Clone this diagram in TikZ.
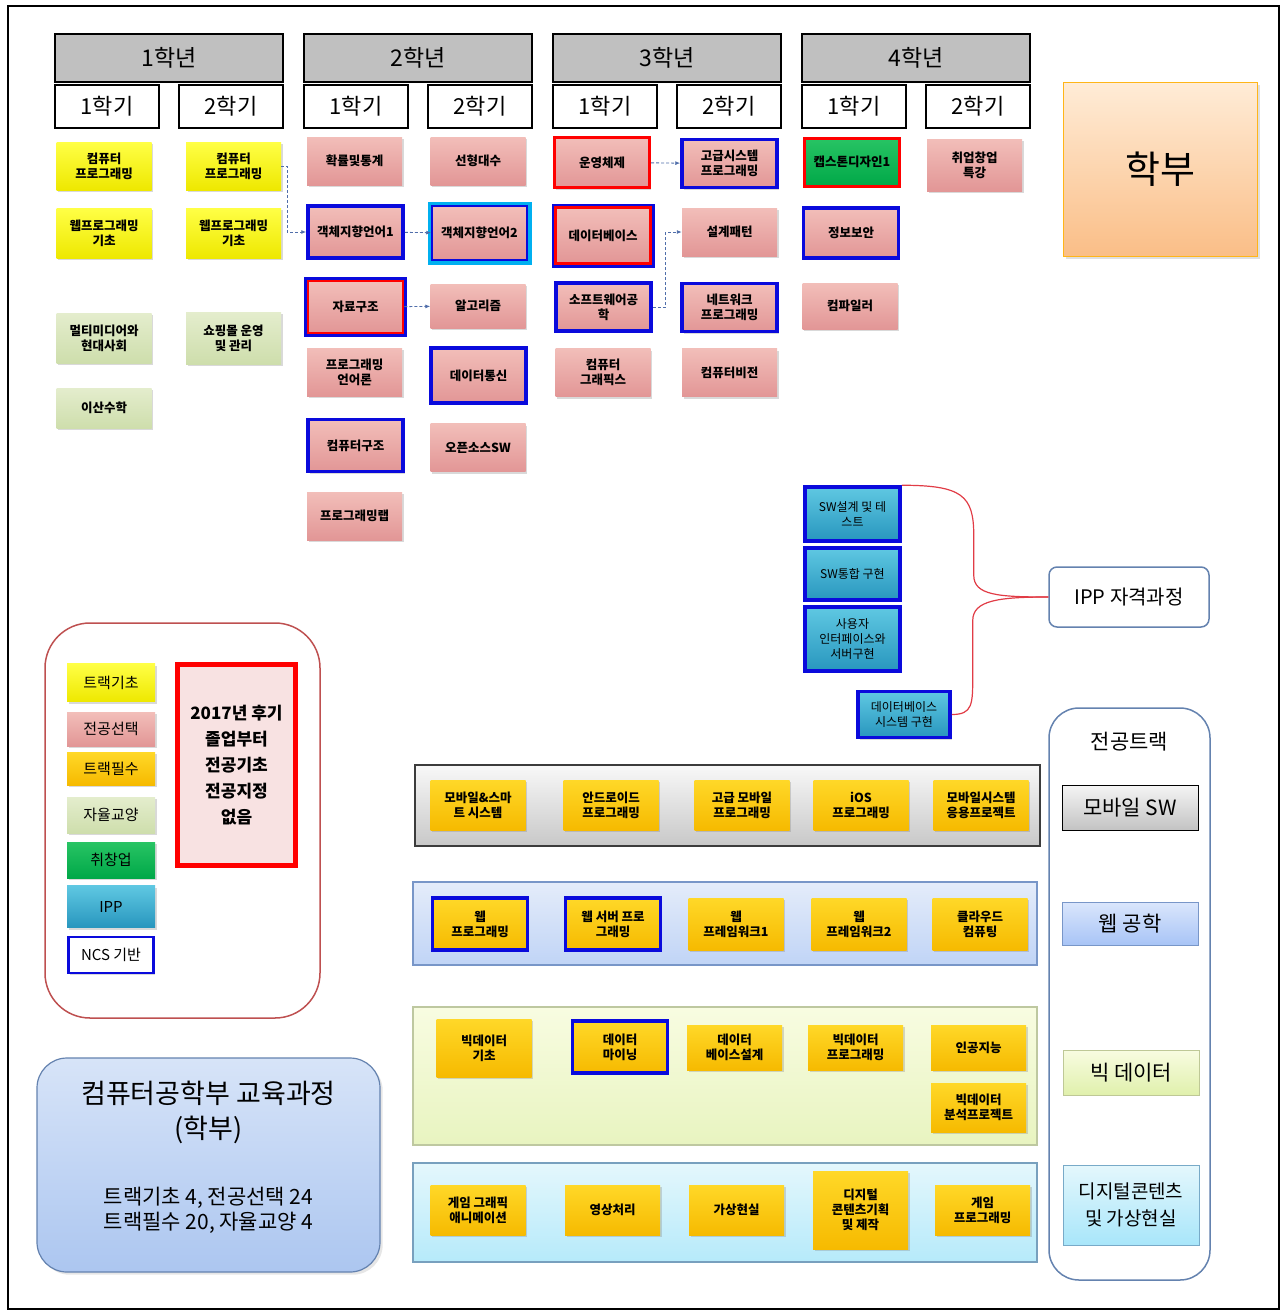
\documentclass[tikz,border=0pt]{standalone}
\usepackage{fontspec}
\setmainfont{Noto Sans CJK KR}
\usetikzlibrary{arrows.meta,shadows}
\definecolor{hdgray}{RGB}{192,192,192}
\definecolor{ylwA}{RGB}{255,255,70}
\definecolor{ylwB}{RGB}{238,232,0}
\definecolor{pnkA}{RGB}{242,190,185}
\definecolor{pnkB}{RGB}{226,150,150}
\definecolor{gldA}{RGB}{255,216,40}
\definecolor{gldB}{RGB}{246,186,0}
\definecolor{khkA}{RGB}{228,237,205}
\definecolor{khkB}{RGB}{206,222,172}
\definecolor{grnA}{RGB}{40,196,100}
\definecolor{grnB}{RGB}{0,168,72}
\definecolor{ippA}{RGB}{95,200,226}
\definecolor{ippB}{RGB}{40,150,190}
\definecolor{ncsblue}{RGB}{10,10,220}
\definecolor{oopcyan}{RGB}{0,176,240}
\definecolor{flowc}{RGB}{80,110,170}
\definecolor{brcred}{RGB}{225,60,70}
\definecolor{ippbd}{RGB}{100,130,175}
\definecolor{lgdbd}{RGB}{190,80,80}
\begin{document}
\begin{tikzpicture}[x=1pt,y=-1pt,
    yrbox/.style={draw,line width=1.5pt,fill=hdgray,minimum width=228pt,minimum height=48pt,font=\fontsize{23}{26}\selectfont},
    sembox/.style={draw,line width=1.2pt,fill=white,minimum width=104pt,minimum height=43pt,font=\fontsize{22}{24}\selectfont},
    crs/.style={minimum width=95pt,minimum height=48pt,inner sep=1pt,align=center,font=\fontsize{12.5}{15}\selectfont\bfseries,drop shadow={opacity=.3,shadow xshift=1.5pt,shadow yshift=-2pt}},
    tbase/.style={crs,top color=ylwA,bottom color=ylwB},
    msel/.style={crs,top color=pnkA,bottom color=pnkB},
    treq/.style={crs,top color=gldA,bottom color=gldB},
    libr/.style={crs,top color=khkA,bottom color=khkB},
    jobc/.style={crs,top color=grnA,bottom color=grnB},
    ippc/.style={crs,top color=ippA,bottom color=ippB},
    ncsb/.style={draw=ncsblue,line width=3.5pt},
    redb/.style={draw=red,line width=3pt},
    ncsred/.style={draw=red,line width=2.5pt,preaction={draw=ncsblue,line width=8pt}},
    wncs/.style={treq,ncsb},
    flow/.style={densely dashed,draw=flowc,line width=.9pt,-{Latex[length=5pt,width=4pt]}},
    brc/.style={draw=brcred,line width=1.2pt},
    pnl/.style={draw,line width=1.2pt,minimum width=624pt},
    trk/.style={draw,line width=1pt,minimum width=136pt,align=center,font=\fontsize{21}{24}\selectfont}]
  \useasboundingbox (0,0) rectangle (1286,1314);
  \draw[line width=1.5pt] (8,6) rectangle (1279,1309);
  % years and semesters
  \foreach \n/\x in {1/55,2/304,3/553,4/802}{
    \node[yrbox] (yr\n) at (\x+114,58) {\n{}학년};
    \node[sembox] (sa\n) at (\x+52,106.5) {1학기};
    \node[sembox] (sb\n) at (\x+176,106.5) {2학기};
  }
  % 1st year
  \node[tbase] (cpa) at (104,166) {컴퓨터\\프로그래밍};
  \node[tbase] (cpb) at (233.5,166) {컴퓨터\\프로그래밍};
  \node[tbase,minimum height=50pt] (wba) at (104,233) {웹프로그래밍\\기초};
  \node[tbase,minimum height=50pt] (wbb) at (233.5,233) {웹프로그래밍\\기초};
  \node[libr,minimum height=50pt] (mmd) at (104,338) {멀티미디어와\\현대사회};
  \node[libr,minimum height=52pt] (shop) at (233.5,338) {쇼핑몰 운영\\및 관리};
  \node[libr,minimum height=40pt] (dmth) at (104,408) {이산수학};
  % 2nd year
  \node[msel] (prob) at (354.5,161) {확률및통계};
  \node[msel] (lalg) at (478,161) {선형대수};
  \node[msel,ncsb,minimum height=52pt] (oopa) at (355.5,232) {객체지향언어1};
  \node[msel,draw=ncsblue,line width=1.5pt,preaction={draw=oopcyan,line width=9pt},minimum height=54pt] (oopb) at (479.5,233) {객체지향언어2};
  \node[msel,ncsred,minimum height=52pt] (dstr) at (355.5,307) {자료구조};
  \node[msel,minimum height=44pt] (algo) at (478,306) {알고리즘};
  \node[msel] (plng) at (354.5,372) {프로그래밍\\언어론};
  \node[msel,ncsb,minimum height=55pt] (dcom) at (478.5,375.5) {데이터통신};
  \node[msel,ncsb,minimum height=52pt] (carc) at (355.5,445.5) {컴퓨터구조};
  \node[msel] (oss) at (478,447.5) {오픈소스SW};
  \node[msel] (plab) at (354.5,516) {프로그래밍랩};
  % 3rd year
  \node[msel,redb,minimum height=50pt] (opsy) at (602,162.5) {운영체제};
  \node[msel,ncsb] (asys) at (729.5,163.5) {고급시스템\\프로그래밍};
  \node[msel,ncsred,minimum height=56pt] (dbas) at (603,235.5) {데이터베이스};
  \node[msel] (dpat) at (729.5,232) {설계패턴};
  \node[msel,ncsb] (swen) at (603.5,307) {소프트웨어공\\학};
  \node[msel,ncsb] (netp) at (729.5,307.5) {네트워크\\프로그래밍};
  \node[msel] (cgfx) at (603,372.5) {컴퓨터\\그래픽스};
  \node[msel] (cvis) at (729.5,372.5) {컴퓨터비전};
  % 4th year
  \node[jobc,redb] (capa) at (852,162) {캡스톤디자인1};
  \node[msel,minimum height=52pt] (jobs) at (974.5,165) {취업창업\\특강};
  \node[msel,ncsb,minimum height=50pt] (isec) at (851,233) {정보보안};
  \node[msel,minimum height=46pt] (cmpl) at (850,306) {컴파일러};
  \node[draw=gldA!60!orange,line width=.8pt,top color={rgb,255:red,255;green,236;blue,215},bottom color={rgb,255:red,250;green,190;blue,135},minimum width=194pt,minimum height=174pt,font=\fontsize{38}{44}\selectfont,drop shadow={opacity=.25}] (dept) at (1160,169) {학부};
  % prerequisites
  \draw[flow] (cpb.east) -- ++(6,0) |- (oopa.west);
  \draw[flow] (oopa) -- (oopb);
  \draw[flow] (dstr) -- (algo);
  \draw[flow] (opsy) -- (asys);
  \draw[flow] (swen.east) -- ++(13,0) |- (dpat.west);
  % IPP
  \node[ippc,ncsb,minimum height=54pt,font=\fontsize{12}{15}\selectfont] (ippa) at (852.5,514) {SW설계 및 테\\스트};
  \node[ippc,ncsb,minimum height=52pt,font=\fontsize{12}{15}\selectfont] (ippb) at (852.5,574) {SW통합 구현};
  \node[ippc,ncsb,minimum height=64pt,font=\fontsize{12}{15}\selectfont] (ippd) at (852.5,639) {사용자\\인터페이스와\\서버구현};
  \node[ippc,ncsb,minimum width=92pt,minimum height=46pt,font=\fontsize{12}{15}\selectfont] (dbim) at (904,714.5) {데이터베이스\\시스템 구현};
  \node[draw=ippbd,line width=1.5pt,rounded corners=8pt,fill=white,minimum width=160pt,minimum height=60pt,font=\fontsize{20}{22}\selectfont] (ippq) at (1129,597) {IPP 자격과정};
  \draw[brc] (ippa.north east) .. controls +(60,0) and +(0,-40) .. ++(72,50) -- ++(0,40) .. controls +(0,20) and +(-50,0) .. (ippq.west);
  \draw[brc] (dbim.east) .. controls +(21,0) and +(0,30) .. ++(21,-40) -- ++(0,-54) .. controls +(0,-20) and +(-50,0) .. (ippq.west);
  % legend
  \node[draw=lgdbd,line width=1.5pt,rounded corners=45pt,minimum width=275pt,minimum height=395pt] (lgd) at (182.5,820.5) {};
  \foreach \st/\y/\h/\txt [count=\i] in {tbase/682.5/38/트랙기초, msel/729/34/전공선택, treq/768.5/33/트랙필수, libr/815/36/자율교양, jobc/860/36/취창업, ippc/906.5/42/IPP}
    \node[\st,minimum width=88pt,minimum height=\h,font=\fontsize{15}{17}\selectfont] (lg\i) at (111,\y) {\txt};
  \node[crs,fill=white,draw=ncsblue,line width=2.5pt,minimum width=85pt,minimum height=36pt,font=\fontsize{15}{17}\selectfont] (lg7) at (111,955) {NCS 기반};
  \node[draw=red,line width=5pt,fill={rgb,255:red,248;green,226;blue,226},minimum width=118pt,minimum height=201pt,align=center,font=\fontsize{17}{26}\selectfont\bfseries] (note) at (236.5,765) {2017년 후기\\졸업부터\\전공기초\\전공지정\\없음};
  % summary
  \node[draw=ippbd,line width=1.2pt,rounded corners=30pt,top color={rgb,255:red,215;green,228;blue,248},bottom color={rgb,255:red,172;green,198;blue,240},minimum width=343pt,minimum height=214pt,drop shadow={opacity=.2}] (summ) at (208.5,1165) {};
  \node[align=center,font=\fontsize{27}{35}\selectfont] (sttl) at (208.5,1112) {컴퓨터공학부 교육과정\\(학부)};
  \node[align=center,font=\fontsize{21}{25}\selectfont] (scnt) at (208.5,1210) {트랙기초 4, 전공선택 24\\트랙필수 20, 자율교양 4};
  % track panels
  \node[pnl,draw={rgb,255:red,60;green,60;blue,60},top color={rgb,255:red,248;green,248;blue,248},bottom color={rgb,255:red,200;green,200;blue,200},minimum width=625pt,minimum height=81pt] (pmob) at (727.5,805.5) {};
  \node[pnl,draw={rgb,255:red,120;green,150;blue,200},top color={rgb,255:red,228;green,236;blue,250},bottom color={rgb,255:red,192;green,212;blue,246},minimum height=83pt] (pweb) at (725,923.5) {};
  \node[pnl,draw={rgb,255:red,190;green,200;blue,160},top color={rgb,255:red,248;green,252;blue,225},bottom color={rgb,255:red,232;green,244;blue,192},minimum height=138pt] (pbig) at (725,1076) {};
  \node[pnl,draw={rgb,255:red,120;green,160;blue,190},top color={rgb,255:red,228;green,247;blue,252},bottom color={rgb,255:red,182;green,234;blue,250},minimum height=99pt] (pgam) at (725,1212.5) {};
  \foreach \x/\txt [count=\i] in {478/모바일\&스마\\트 시스템, 611/안드로이드\\프로그래밍, 742/고급 모바일\\프로그래밍, 861/iOS\\프로그래밍, 981/모바일시스템\\응용프로젝트}
    \node[treq,minimum height=50pt] (mob\i) at (\x,805) {\txt};
  \foreach \x/\st/\txt [count=\i] in {480/wncs/웹\\프로그래밍, 613/wncs/웹 서버 프로\\그래밍, 736/treq/웹\\프레임워크1, 859/treq/웹\\프레임워크2, 980/treq/클라우드\\컴퓨팅}
    \node[\st,minimum height=52pt] (web\i) at (\x,924) {\txt};
  \node[treq,minimum height=58pt] (biga) at (484,1048) {빅데이터\\기초};
  \node[treq,ncsb,minimum height=52pt] (bigb) at (620,1047) {데이터\\마이닝};
  \node[treq,minimum height=45pt] (bigc) at (734.5,1047.5) {데이터\\베이스설계};
  \node[treq,minimum height=45pt] (bigd) at (855.5,1047.5) {빅데이터\\프로그래밍};
  \node[treq,minimum height=45pt] (bige) at (978.5,1047.5) {인공지능};
  \node[treq,minimum height=49pt] (bigf) at (978.5,1107.5) {빅데이터\\분석프로젝트};
  \foreach \x/\h/\txt [count=\i] in {478/50/게임 그래픽\\애니메이션, 612.5/50/영상처리, 736.5/50/가상현실, 860.5/78/디지털\\콘텐츠기획\\및 제작, 982.5/50/게임\\프로그래밍}
    \node[treq,minimum height=\h] (gam\i) at (\x,1210) {\txt};
  % track list
  \node[draw=ippbd,line width=1.5pt,rounded corners=30pt,fill=white,minimum width=161pt,minimum height=572pt] (tlst) at (1129.5,994) {};
  \node[font=\fontsize{21}{24}\selectfont] (tttl) at (1129.5,742) {전공트랙};
  \node[trk,top color={rgb,255:red,245;green,245;blue,245},bottom color={rgb,255:red,195;green,195;blue,195},minimum height=45pt] (tmob) at (1130,807.5) {모바일 SW};
  \node[trk,draw={rgb,255:red,120;green,150;blue,200},top color={rgb,255:red,218;green,230;blue,252},bottom color={rgb,255:red,168;green,196;blue,246},minimum height=43pt] (tweb) at (1130,923.5) {웹 공학};
  \node[trk,draw={rgb,255:red,190;green,200;blue,150},top color={rgb,255:red,248;green,252;blue,225},bottom color={rgb,255:red,224;green,240;blue,172},minimum height=45pt] (tbig) at (1131,1072.5) {빅 데이터};
  \node[trk,draw={rgb,255:red,120;green,170;blue,200},top color={rgb,255:red,228;green,247;blue,252},bottom color={rgb,255:red,168;green,230;blue,250},minimum height=80pt,font=\fontsize{19}{27}\selectfont] (tgam) at (1131,1205) {디지털콘텐츠\\및 가상현실};
\end{tikzpicture}
\end{document}
